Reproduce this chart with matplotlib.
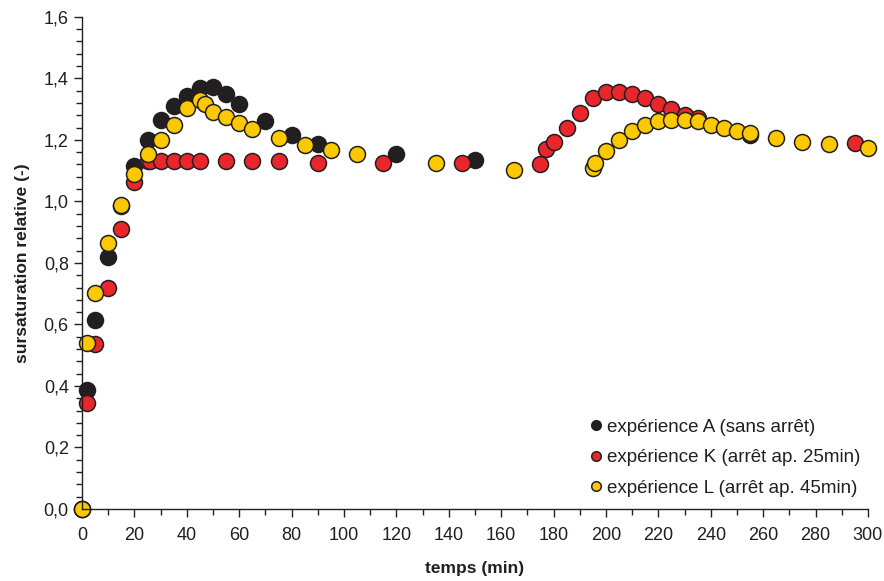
import matplotlib
matplotlib.use("Agg")
import matplotlib.pyplot as plt
from matplotlib.ticker import MultipleLocator, FuncFormatter

plt.rcParams['font.family'] = ['Liberation Sans', 'DejaVu Sans']

# expérience A (sans arrêt)
tA = [0, 2, 5, 10, 15, 20, 25, 30, 35, 40, 45, 50, 55, 60, 70, 80, 90, 120, 150, 255]
sA = [0, 0.387, 0.615, 0.82, 0.985, 1.115, 1.20, 1.265, 1.31, 1.343, 1.37, 1.372,
      1.35, 1.317, 1.26, 1.216, 1.187, 1.154, 1.135, 1.215]

# expérience K (arrêt ap. 25min)
tK = [0, 2, 5, 10, 15, 20, 25, 26, 30, 35, 40, 45, 55, 65, 75, 90, 115, 145,
      175, 177, 180, 185, 190, 195, 200, 205, 210, 215, 220, 225, 230, 235, 295]
sK = [0, 0.345, 0.537, 0.72, 0.91, 1.063, 1.13, 1.13, 1.13, 1.13, 1.13, 1.13, 1.13,
      1.13, 1.13, 1.126, 1.126, 1.126, 1.121, 1.17, 1.192, 1.24, 1.289, 1.335,
      1.355, 1.355, 1.35, 1.335, 1.317, 1.30, 1.281, 1.27, 1.189]

# expérience L (arrêt ap. 45min)
tL = [0, 2, 5, 10, 15, 20, 25, 30, 35, 40, 45, 47, 50, 55, 60, 65, 75, 85, 95, 105,
      135, 165, 195, 196, 200, 205, 210, 215, 220, 225, 230, 235, 240, 245, 250, 255,
      265, 275, 285, 300]
sL = [0, 0.539, 0.703, 0.864, 0.989, 1.088, 1.154, 1.198, 1.249, 1.305, 1.33, 1.316,
      1.292, 1.274, 1.254, 1.235, 1.207, 1.184, 1.168, 1.154, 1.126, 1.102, 1.108,
      1.126, 1.164, 1.198, 1.23, 1.249, 1.26, 1.263, 1.263, 1.26, 1.249, 1.24, 1.23,
      1.222, 1.207, 1.192, 1.187, 1.173]

labels = ["expérience A (sans arrêt)", "expérience K (arrêt ap. 25min)",
          "expérience L (arrêt ap. 45min)"]
colors = ["#231f20", "#e8262b", "#fcc800"]

fig = plt.figure(figsize=(8.84, 5.81), dpi=100)
ax = fig.add_axes([0.0928, 0.124, 0.889, 0.847])

for t, s, c, lab in zip([tA, tK, tL], [sA, sK, sL], colors, labels):
    ax.plot(t, s, linestyle='none', marker='o', markersize=11.5, markerfacecolor=c,
            markeredgecolor='#231f20', markeredgewidth=1.1, label=lab, clip_on=False)

ax.set_xlim(0, 300)
ax.set_ylim(0, 1.6)
ax.xaxis.set_major_locator(MultipleLocator(20))
ax.xaxis.set_minor_locator(MultipleLocator(10))
ax.yaxis.set_major_locator(MultipleLocator(0.2))
ax.yaxis.set_minor_locator(MultipleLocator(0.04))
ax.yaxis.set_major_formatter(FuncFormatter(lambda v, p: f"{v:.1f}".replace('.', ',')))

for side in ['top', 'right']:
    ax.spines[side].set_visible(False)
for side in ['left', 'bottom']:
    ax.spines[side].set_color('#231f20')
    ax.spines[side].set_linewidth(1.0)

ax.tick_params(which='major', length=6, width=1, color='#231f20', labelsize=13,
               labelcolor='#231f20')
ax.tick_params(which='minor', length=4, width=1, color='#231f20')
ax.tick_params(axis='x', pad=7)

ax.set_xlabel("temps (min)", fontsize=12.5, fontweight='bold', color='#231f20', labelpad=12)
ax.set_ylabel("sursaturation relative (-)", fontsize=12.5, fontweight='bold',
              color='#231f20', labelpad=10)

leg = ax.legend(loc='lower right', bbox_to_anchor=(1.012, -0.01), frameon=False,
                fontsize=13.5, markerscale=0.6, handletextpad=0.1, labelspacing=0.72,
                handlelength=1.0)
for txt in leg.get_texts():
    txt.set_color('#231f20')

fig.savefig("out.png", dpi=100)
